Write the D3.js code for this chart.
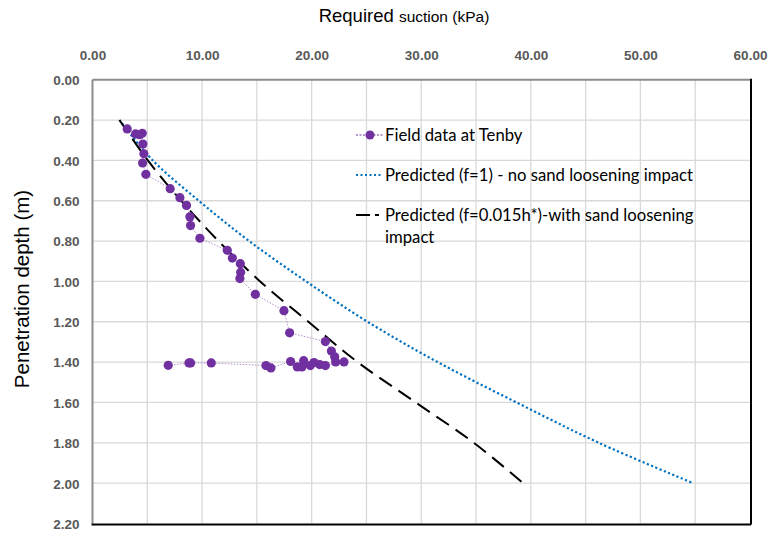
<!DOCTYPE html>
<html>
<head>
<meta charset="utf-8">
<script src="https://cdn.jsdelivr.net/npm/d3@7"></script>
<style>
  body { margin: 0; background: #fff; }
  .tick text { font-family: "Liberation Sans", Arial, sans-serif; font-weight: bold; font-size: 13.5px; fill: #595959; }
</style>
</head>
<body>
<svg id="chart" width="769" height="533"></svg>
<script>
// field measurements (suction kPa, depth m), in recorded order
const fieldSuction = [3.17, 3.93, 4.29, 4.54, 4.6, 4.69, 4.57, 4.87, 7.09, 7.98, 8.58, 8.89, 8.95, 9.8,
  12.3, 12.76, 13.49, 13.52, 13.45, 14.86, 17.47, 17.99, 21.25, 21.8, 22.1, 22.19, 22.95,
  21.25, 20.73, 20.21, 19.88, 19.27, 19.11, 18.69, 18.08, 16.28, 15.83, 10.84, 8.95, 8.8, 6.91];
const fieldDepth = [0.244, 0.269, 0.273, 0.266, 0.319, 0.367, 0.413, 0.469, 0.54, 0.585, 0.623, 0.68, 0.723, 0.786,
  0.846, 0.884, 0.912, 0.955, 0.986, 1.064, 1.145, 1.255, 1.298, 1.345, 1.374, 1.399, 1.399,
  1.417, 1.412, 1.402, 1.417, 1.393, 1.424, 1.424, 1.397, 1.429, 1.417, 1.404, 1.404, 1.404, 1.416];

// predicted curves
const predDepth = [0.2, 0.4, 0.6, 0.8, 1.0, 1.2, 1.4, 1.6, 1.8, 2.0];
const predNoLoosen = [2.46, 5.5, 9.7, 14.3, 19.5, 25.1, 31.5, 38.7, 46.2, 54.8];
const predLoosen = [2.46, 5.05, 8.1, 11.5, 15.3, 19.7, 24.2, 29.5, 34.8, 39.3];

const xTicks = [0, 10, 20, 30, 40, 50, 60];
const yTicks = [0, 0.2, 0.4, 0.6, 0.8, 1.0, 1.2, 1.4, 1.6, 1.8, 2.0, 2.2];

const svg = d3.select("#chart");
const plotLeft = 92.5, plotRight = 750, plotTop = 79.7, plotBottom = 523.5;

const x = d3.scaleLinear().domain([0, 60]).range([plotLeft, plotRight]);
const y = d3.scaleLinear().domain([0, 2.2]).range([plotTop, plotBottom]);

// grid
svg.append("g")
  .selectAll("line")
  .data(d3.range(5, 60, 5))
  .join("line")
  .attr("x1", (d) => x(d)).attr("x2", (d) => x(d))
  .attr("y1", plotTop).attr("y2", plotBottom)
  .attr("stroke", "#d9d9d9").attr("stroke-width", 1.3);
svg.append("g")
  .selectAll("line")
  .data(yTicks.slice(1, -1))
  .join("line")
  .attr("x1", plotLeft).attr("x2", plotRight)
  .attr("y1", (d) => y(d)).attr("y2", (d) => y(d))
  .attr("stroke", "#d9d9d9").attr("stroke-width", 1.3);

// axes labels
const xAxis = svg.append("g")
  .attr("transform", `translate(0,${plotTop - 17})`)
  .call(d3.axisTop(x).tickValues(xTicks).tickFormat(d3.format(".2f")).tickSize(0));
xAxis.select(".domain").remove();

const yAxis = svg.append("g")
  .attr("transform", `translate(${plotLeft - 4},0)`)
  .call(d3.axisLeft(y).tickValues(yTicks).tickFormat(d3.format(".2f")).tickSize(0).tickPadding(9));
yAxis.select(".domain").remove();
yAxis.selectAll("text").attr("dy", "0.36em");

// frame
svg.append("line").attr("x1", plotLeft).attr("x2", plotRight).attr("y1", plotTop).attr("y2", plotTop)
  .attr("stroke", "#8c8c8c").attr("stroke-width", 2);
svg.append("line").attr("x1", plotLeft).attr("x2", plotLeft).attr("y1", plotTop).attr("y2", plotBottom)
  .attr("stroke", "#8c8c8c").attr("stroke-width", 2);
svg.append("line").attr("x1", plotLeft - 1).attr("x2", plotRight + 1).attr("y1", plotBottom + 1).attr("y2", plotBottom + 1)
  .attr("stroke", "#000").attr("stroke-width", 2);
svg.append("line").attr("x1", plotRight + 1).attr("x2", plotRight + 1).attr("y1", plotTop - 1).attr("y2", plotBottom + 1)
  .attr("stroke", "#000").attr("stroke-width", 2);

// predicted lines
const predLine = d3.line()
  .x((d) => x(d[0]))
  .y((d) => y(d[1]))
  .curve(d3.curveCatmullRom);

svg.append("path")
  .datum(predDepth.map((d, i) => [predNoLoosen[i], d]))
  .attr("d", predLine)
  .attr("fill", "none")
  .attr("stroke", "#0070c0")
  .attr("stroke-width", 2.2)
  .attr("stroke-dasharray", "2.2 2.4");

svg.append("path")
  .datum(predDepth.map((d, i) => [predLoosen[i], d]))
  .attr("d", predLine)
  .attr("fill", "none")
  .attr("stroke", "#000")
  .attr("stroke-width", 2)
  .attr("stroke-dasharray", "15 8");

// field data
const field = fieldSuction.map((d, i) => [d, fieldDepth[i]]);
svg.append("path")
  .datum(field)
  .attr("d", d3.line().x((d) => x(d[0])).y((d) => y(d[1])))
  .attr("fill", "none")
  .attr("stroke", "#b48fd4")
  .attr("stroke-width", 1)
  .attr("stroke-dasharray", "1.5 1.5");

svg.append("g")
  .selectAll("circle")
  .data(field)
  .join("circle")
  .attr("cx", (d) => x(d[0]))
  .attr("cy", (d) => y(d[1]))
  .attr("r", 4.6)
  .attr("fill", "#7030a0");

// titles
svg.append("text")
  .attr("x", 404).attr("y", 22)
  .attr("text-anchor", "middle")
  .style("font-family", "'Liberation Sans', Arial, sans-serif")
  .style("fill", "#000")
  .call((t) => {
    t.append("tspan").style("font-size", "18.5px").text("Required ");
    t.append("tspan").style("font-size", "15.5px").text("suction (kPa)");
  });

svg.append("text")
  .attr("transform", "translate(29,289) rotate(-90)")
  .attr("text-anchor", "middle")
  .style("font-family", "'Liberation Sans', Arial, sans-serif")
  .style("font-size", "20.5px")
  .text("Penetration depth (m)");

// legend
const legend = svg.append("g").style("font-family", "Lato, 'Open Sans', sans-serif").style("font-size", "16.7px");
const legendLabels = ["Field data at Tenby", "Predicted (f=1) - no sand loosening impact", "Predicted (f=0.015h*)-with sand loosening"];
const lx = 356, ly = 135;

legend.append("line").attr("x1", lx).attr("x2", lx + 27).attr("y1", ly).attr("y2", ly)
  .attr("stroke", "#7030a0").attr("stroke-width", 1).attr("stroke-dasharray", "2 1.5");
legend.append("circle").attr("cx", lx + 14).attr("cy", ly).attr("r", 4.5).attr("fill", "#7030a0");

legend.append("line").attr("x1", lx).attr("x2", lx + 27).attr("y1", ly + 40).attr("y2", ly + 40)
  .attr("stroke", "#0070c0").attr("stroke-width", 2).attr("stroke-dasharray", "2 2.5");

legend.append("line").attr("x1", lx).attr("x2", lx + 23).attr("y1", ly + 80).attr("y2", ly + 80)
  .attr("stroke", "#000").attr("stroke-width", 2).attr("stroke-dasharray", "14 5");

legend.selectAll("text.lab")
  .data(legendLabels)
  .join("text")
  .attr("class", "lab")
  .attr("x", lx + 29)
  .attr("y", (d, i) => ly + i * 40 + 6)
  .style("fill", "#000")
  .text((d) => d);
legend.append("text").attr("x", lx + 29).attr("y", ly + 80 + 28).style("fill", "#000").text("impact");
</script>
</body>
</html>
